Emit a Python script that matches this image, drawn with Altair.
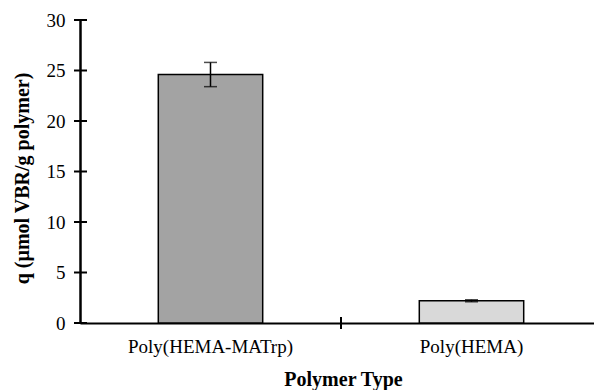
import altair as alt
import pandas as pd

# Adsorption capacity of the two polymers
polymers = ["Poly(HEMA-MATrp)", "Poly(HEMA)"]
q_values = [24.6, 2.2]
q_errors = [1.2, 0.1]
bar_fills = ["#a3a3a3", "#d9d9d9"]
y_ticks = [0, 5, 10, 15, 20, 25, 30]

df = pd.DataFrame({
    "polymer": polymers,
    "q": q_values,
    "lo": [v - e for v, e in zip(q_values, q_errors)],
    "hi": [v + e for v, e in zip(q_values, q_errors)],
    "fill": bar_fills,
})
ticks_df = pd.DataFrame({"t": y_ticks})
sep_df = pd.DataFrame({"polymer": [polymers[1]]})

FONT = "Liberation Serif"

x_scale = alt.Scale(domain=polymers, range=[0, 522], paddingInner=0, paddingOuter=0)
y_scale = alt.Scale(domain=[0, 30], nice=False)

x_enc = alt.X(
    "polymer:N", sort=polymers, scale=x_scale,
    axis=alt.Axis(
        title="Polymer Type", titleFont=FONT, titleFontSize=20, titleFontWeight="bold",
        titleColor="black", titleX=263, titleY=56, titleBaseline="middle",
        labelFont=FONT, labelFontSize=19, labelColor="black", labelPadding=14,
        labelAngle=0, ticks=False, domainColor="black", domainWidth=2, grid=False,
    ),
)
y_enc = alt.Y(
    "q:Q", scale=y_scale,
    axis=alt.Axis(
        title="q (µmol VBR/g polymer)", titleFont=FONT, titleFontSize=20,
        titleFontWeight="bold", titleColor="black", titleX=-58, titleY=158,
        titleBaseline="middle", titleAngle=-90,
        values=y_ticks, labelFont=FONT, labelFontSize=19, labelColor="black",
        labelPadding=15, ticks=False, domainColor="black", domainWidth=2.5, grid=False,
    ),
)

bars = alt.Chart(df).mark_bar(
    width=alt.RelativeBandSize(0.4), stroke="black", strokeWidth=1.5
).encode(x=x_enc, y=y_enc, fill=alt.Fill("fill:N", scale=None))

err = alt.Chart(df).mark_rule(color="black", strokeWidth=1.5).encode(
    x=alt.X("polymer:N", sort=polymers, scale=x_scale),
    y=alt.Y("lo:Q", scale=y_scale),
    y2="hi:Q",
)
caps_hi = alt.Chart(df).mark_tick(color="black", size=13, thickness=1.5, orient="horizontal").encode(
    x=alt.X("polymer:N", sort=polymers, scale=x_scale),
    y=alt.Y("hi:Q", scale=y_scale),
)
caps_lo = alt.Chart(df).mark_tick(color="black", size=13, thickness=1.5, orient="horizontal").encode(
    x=alt.X("polymer:N", sort=polymers, scale=x_scale),
    y=alt.Y("lo:Q", scale=y_scale),
)

# crossing tick marks on the value axis
y_tick_marks = alt.Chart(ticks_df).mark_rule(color="black", strokeWidth=2).encode(
    y=alt.Y("t:Q", scale=y_scale),
    x=alt.value(-6),
    x2=alt.value(7),
)
# crossing tick mark between the two categories
sep_tick = alt.Chart(sep_df).mark_rule(color="black", strokeWidth=2).encode(
    x=alt.X("polymer:N", sort=polymers, scale=x_scale, bandPosition=0),
    y=alt.value(297),
    y2=alt.value(309),
)

chart = (
    alt.layer(bars, err, caps_hi, caps_lo, y_tick_marks, sep_tick)
    .properties(
        width=514, height=303,
        autosize=alt.AutoSizeParams(type="none"),
        padding={"left": 80, "top": 20, "right": 0, "bottom": 67},
        background="white",
    )
    .configure_view(stroke=None)
)

chart.save("out.html", embed_options={"renderer": "svg", "actions": False})
